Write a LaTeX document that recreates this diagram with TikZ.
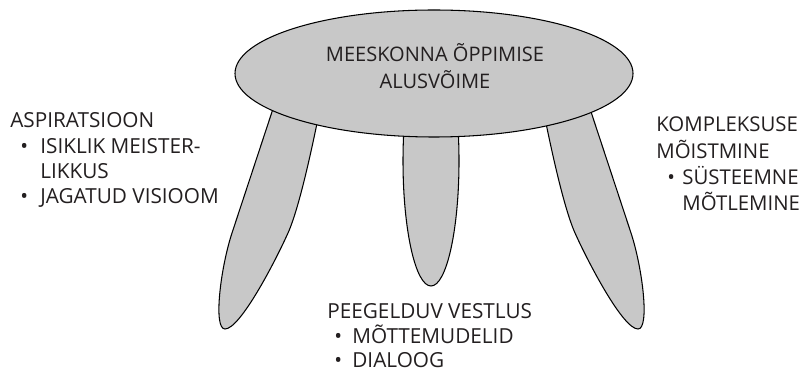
\documentclass[tikz,border=0pt]{standalone}
\usepackage{fontspec}
\setmainfont{Open Sans}
\usepackage{tikz}
\usetikzlibrary{positioning}
\definecolor{legfill}{RGB}{200,200,200}
\definecolor{txtgray}{RGB}{35,31,32}

\begin{document}
\begin{tikzpicture}[
  leg/.style={fill=legfill,draw=black,line width=0.6pt},
  lbl/.style={inner sep=0pt,text=txtgray,font=\fontsize{11.8}{14.4}\selectfont}]
\useasboundingbox (0,0) rectangle (16.06,7.42);
\draw[leg] (5.65,5.82) -- (4.64,2.76) .. controls (4.41,2.06) and (4.26,0.84) .. (4.50,0.84)
  .. controls (4.80,0.84) and (5.49,2.16) .. (5.76,2.76)
  .. controls (6.03,3.36) and (6.36,5.02) .. (6.51,5.82) -- cycle;
\draw[leg] (11.61,5.82) -- (12.62,2.76) .. controls (12.85,2.06) and (13.00,0.84) .. (12.76,0.84)
  .. controls (12.46,0.84) and (11.77,2.16) .. (11.50,2.76)
  .. controls (11.23,3.36) and (10.90,5.02) .. (10.75,5.82) -- cycle;
\draw[leg] (8.62,4.2) ellipse [x radius=0.56,y radius=2.5];
\draw[leg] (8.68,5.95) ellipse [x radius=3.98,y radius=1.27];
\node[lbl,anchor=base,font=\fontsize{11.4}{14.8}\selectfont] (base) at (8.70,6.18)
  {\begin{tabular}[t]{@{}c@{}}MEESKONNA ÕPPIMISE\\ALUSVÕIME\end{tabular}};
\node[lbl,anchor=base west] (asp) at (0.2,4.86)
  {\begin{tabular}[t]{@{}p{0.6cm}@{}l@{}}
  \multicolumn{2}{@{}l@{}}{ASPIRATSIOON}\\
  \hspace{0.2cm}\textbullet & ISIKLIK MEISTER-\\
  & LIKKUS\\
  \hspace{0.2cm}\textbullet & JAGATUD VISIOOM
  \end{tabular}};
\node[lbl,anchor=base west,font=\fontsize{11.6}{14.8}\selectfont] (kompl) at (13.12,4.78)
  {\begin{tabular}[t]{@{}p{0.52cm}@{}l@{}}
  \multicolumn{2}{@{}l@{}}{KOMPLEKSUSE}\\
  \multicolumn{2}{@{}l@{}}{MÕISTMINE}\\
  \hspace{0.22cm}\textbullet & SÜSTEEMNE\\
  & MÕTLEMINE
  \end{tabular}};
\node[lbl,anchor=base west,font=\fontsize{11.8}{13.5}\selectfont] (peeg) at (6.54,1.06)
  {\begin{tabular}[t]{@{}p{0.5cm}@{}l@{}}
  \multicolumn{2}{@{}l@{}}{PEEGELDUV VESTLUS}\\
  \hspace{0.14cm}\textbullet & MÕTTEMUDELID\\
  \hspace{0.14cm}\textbullet & DIALOOG
  \end{tabular}};
\end{tikzpicture}
\end{document}
